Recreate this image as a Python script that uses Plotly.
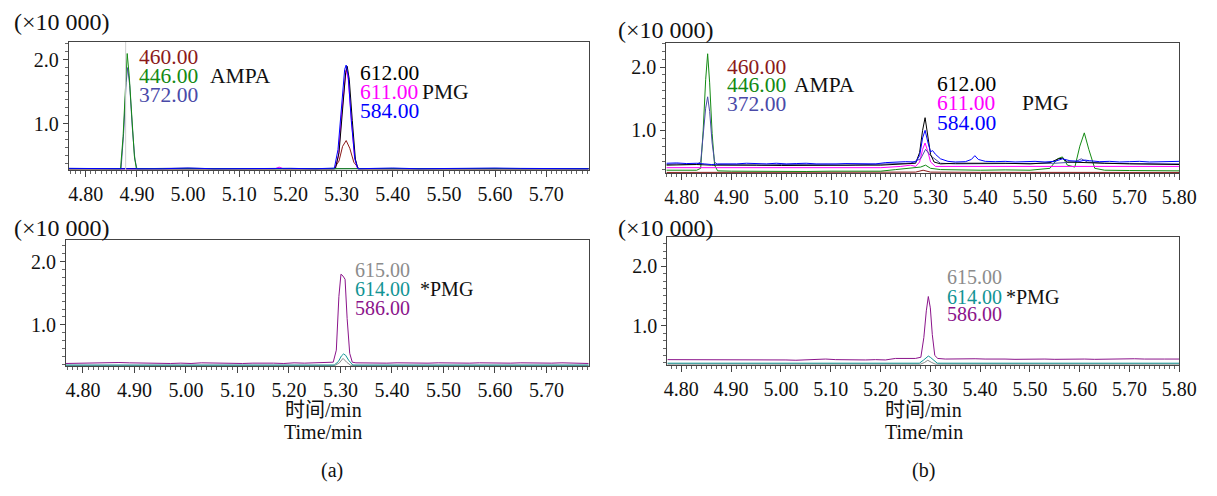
import plotly.graph_objects as go

W, H = 1217, 496
FONT = "Liberation Serif, DejaVu Serif, Noto Sans CJK SC, serif"

# ---------------- colours of the ion traces ----------------
C460 = "#8b1a1a"
C446 = "#138a13"
C372 = "#4a4aa8"
C612 = "#000000"
C611 = "#ff00ff"
C584 = "#0000ff"
C615 = "#8c8c8c"
C614 = "#129494"
C586 = "#8b148b"

# ---------------- panel (a), upper: AMPA + PMG ----------------
a1_460_t = [4.767, 4.90, 5.10, 5.285, 5.295, 5.302, 5.309, 5.316, 5.324, 5.334, 5.50, 5.783]
a1_460_y = [0.30, 0.30, 0.30, 0.30, 0.42, 0.65, 0.74, 0.62, 0.40, 0.30, 0.30, 0.30]

a1_446_t = [4.767, 4.868, 4.873, 4.878, 4.881, 4.885, 4.890, 4.895, 4.899, 5.783]
a1_446_y = [0.30, 0.30, 0.80, 1.70, 2.10, 1.75, 1.05, 0.50, 0.30, 0.30]

a1_372_t = [4.767, 4.80, 4.83, 4.85, 4.869, 4.874, 4.879, 4.882, 4.886, 4.891, 4.896, 4.900,
            4.95, 5.00, 5.05, 5.10, 5.15, 5.20, 5.25, 5.30, 5.35, 5.40, 5.45, 5.50, 5.55,
            5.60, 5.65, 5.70, 5.75, 5.783]
a1_372_y = [0.305, 0.30, 0.305, 0.30, 0.30, 0.85, 1.65, 1.88, 1.60, 0.95, 0.45, 0.30,
            0.305, 0.31, 0.30, 0.305, 0.30, 0.305, 0.30, 0.305, 0.30, 0.305, 0.30, 0.305, 0.30,
            0.305, 0.30, 0.305, 0.30, 0.30]

a1_612_t = [4.767, 5.288, 5.295, 5.302, 5.308, 5.311, 5.315, 5.321, 5.327, 5.332, 5.783]
a1_612_y = [0.30, 0.30, 0.55, 1.25, 1.80, 1.90, 1.70, 1.05, 0.45, 0.30, 0.30]

a1_611_t = [4.767, 5.17, 5.178, 5.186, 5.287, 5.294, 5.300, 5.306, 5.309, 5.313, 5.319, 5.325, 5.331, 5.783]
a1_611_y = [0.30, 0.30, 0.325, 0.30, 0.30, 0.50, 1.15, 1.70, 1.85, 1.70, 1.10, 0.50, 0.30, 0.30]

a1_584_t = [4.767, 4.82, 4.86, 4.90, 4.95, 5.00, 5.05, 5.10, 5.15, 5.20, 5.25, 5.286, 5.293,
            5.300, 5.306, 5.309, 5.313, 5.319, 5.326, 5.332, 5.36, 5.40, 5.45, 5.50, 5.55,
            5.60, 5.65, 5.70, 5.75, 5.783]
a1_584_y = [0.305, 0.30, 0.305, 0.30, 0.30, 0.31, 0.30, 0.305, 0.30, 0.305, 0.30, 0.31, 0.60,
            1.30, 1.85, 1.92, 1.75, 1.05, 0.45, 0.30, 0.305, 0.31, 0.30, 0.305, 0.30,
            0.31, 0.305, 0.30, 0.305, 0.30]

# ---------------- panel (b), upper: AMPA + PMG ----------------
b1_460_t = [4.769, 4.85, 4.90, 5.00, 5.10, 5.20, 5.27, 5.285, 5.292, 5.30, 5.40, 5.50, 5.60, 5.70, 5.80]
b1_460_y = [0.335, 0.335, 0.333, 0.335, 0.333, 0.335, 0.34, 0.37, 0.36, 0.34, 0.336, 0.335, 0.333, 0.335, 0.335]

b1_446_t = [4.769, 4.80, 4.83, 4.838, 4.843, 4.848, 4.852, 4.856, 4.861, 4.866, 4.872, 4.90,
            4.95, 5.00, 5.05, 5.10, 5.15, 5.20, 5.23, 5.26, 5.28, 5.29, 5.30, 5.32, 5.35,
            5.40, 5.45, 5.50, 5.54, 5.555, 5.565, 5.575, 5.59, 5.600, 5.609, 5.618, 5.63,
            5.65, 5.70, 5.75, 5.80]
b1_446_y = [0.37, 0.37, 0.37, 0.40, 1.00, 1.80, 2.21, 1.75, 0.95, 0.45, 0.36, 0.355,
            0.35, 0.355, 0.35, 0.355, 0.35, 0.355, 0.38, 0.40, 0.42, 0.45, 0.40, 0.38, 0.375,
            0.37, 0.375, 0.37, 0.40, 0.55, 0.58, 0.45, 0.42, 0.75, 0.96, 0.70, 0.40,
            0.37, 0.365, 0.36, 0.36]

b1_372_t = [4.769, 4.79, 4.81, 4.83, 4.838, 4.843, 4.848, 4.852, 4.856, 4.861, 4.866, 4.872,
            4.90, 4.93, 4.96, 5.00, 5.03, 5.06, 5.10, 5.13, 5.16, 5.20, 5.23, 5.26, 5.28,
            5.29, 5.30, 5.32, 5.35, 5.40, 5.45, 5.50, 5.55, 5.59, 5.603, 5.615, 5.65, 5.70,
            5.75, 5.80]
b1_372_y = [0.46, 0.47, 0.46, 0.465, 0.50, 0.90, 1.35, 1.53, 1.30, 0.80, 0.50, 0.46,
            0.455, 0.46, 0.45, 0.46, 0.455, 0.45, 0.455, 0.45, 0.455, 0.46, 0.47, 0.48, 0.55,
            0.70, 0.60, 0.48, 0.47, 0.47, 0.475, 0.47, 0.48, 0.50, 0.55, 0.50, 0.48, 0.475,
            0.47, 0.47]

b1_612_t = [4.769, 4.80, 4.83, 4.86, 4.90, 4.95, 5.00, 5.05, 5.10, 5.15, 5.20, 5.24, 5.27,
            5.278, 5.284, 5.289, 5.294, 5.300, 5.307, 5.32, 5.35, 5.40, 5.45, 5.50, 5.54,
            5.557, 5.565, 5.575, 5.60, 5.65, 5.70, 5.75, 5.80]
b1_612_y = [0.45, 0.455, 0.46, 0.45, 0.445, 0.45, 0.445, 0.45, 0.445, 0.45, 0.45, 0.47, 0.48,
            0.65, 1.00, 1.20, 0.95, 0.62, 0.50, 0.47, 0.48, 0.485, 0.48, 0.47, 0.49,
            0.55, 0.56, 0.50, 0.49, 0.48, 0.47, 0.465, 0.46]

b1_611_t = [4.769, 4.85, 4.90, 5.00, 5.10, 5.20, 5.24, 5.26, 5.27, 5.278, 5.284, 5.289,
            5.294, 5.300, 5.31, 5.35, 5.40, 5.50, 5.60, 5.70, 5.80]
b1_611_y = [0.41, 0.41, 0.405, 0.41, 0.405, 0.41, 0.43, 0.45, 0.43, 0.50, 0.70, 0.80,
            0.68, 0.50, 0.43, 0.43, 0.43, 0.43, 0.43, 0.43, 0.43]

b1_584_t = [4.769, 4.79, 4.81, 4.83, 4.845, 4.86, 4.875, 4.89, 4.91, 4.93, 4.95, 4.97, 4.99,
            5.01, 5.03, 5.05, 5.07, 5.09, 5.11, 5.13, 5.15, 5.17, 5.19, 5.21, 5.23, 5.25,
            5.27, 5.278, 5.284, 5.289, 5.295, 5.300, 5.304, 5.31, 5.32, 5.335, 5.35, 5.37,
            5.382, 5.389, 5.396, 5.41, 5.43, 5.45, 5.47, 5.49, 5.51, 5.53, 5.55, 5.565,
            5.58, 5.60, 5.61, 5.62, 5.64, 5.66, 5.68, 5.70, 5.72, 5.74, 5.76, 5.78, 5.80]
b1_584_y = [0.48, 0.485, 0.475, 0.48, 0.47, 0.46, 0.47, 0.465, 0.47, 0.48, 0.475, 0.47, 0.48,
            0.47, 0.475, 0.48, 0.47, 0.465, 0.47, 0.475, 0.47, 0.465, 0.47, 0.49, 0.50, 0.505,
            0.50, 0.60, 0.88, 1.00, 0.80, 0.66, 0.68, 0.62, 0.55, 0.51, 0.50, 0.505,
            0.54, 0.60, 0.54, 0.51, 0.505, 0.51, 0.50, 0.505, 0.51, 0.50, 0.51, 0.55,
            0.52, 0.51, 0.53, 0.52, 0.505, 0.51, 0.50, 0.505, 0.51, 0.50, 0.505, 0.51, 0.51]

# ---------------- panel (a), lower: *PMG ----------------
a2_615_t = [4.767, 5.29, 5.298, 5.305, 5.312, 5.320, 5.782]
a2_615_y = [0.36, 0.36, 0.40, 0.47, 0.41, 0.36, 0.36]

a2_614_t = [4.767, 5.288, 5.296, 5.302, 5.306, 5.310, 5.316, 5.324, 5.782]
a2_614_y = [0.365, 0.365, 0.42, 0.51, 0.54, 0.52, 0.44, 0.365, 0.365]

a2_586_t = [4.767, 4.79, 4.81, 4.83, 4.85, 4.87, 4.89, 4.91, 4.93, 4.95, 4.97, 4.99, 5.01, 5.03,
            5.05, 5.07, 5.09, 5.11, 5.13, 5.15, 5.17, 5.19, 5.21, 5.23, 5.25, 5.27, 5.286,
            5.292, 5.297, 5.301, 5.305, 5.309, 5.313, 5.318, 5.323, 5.33, 5.35, 5.37, 5.39,
            5.41, 5.43, 5.45, 5.47, 5.49, 5.51, 5.53, 5.55, 5.57, 5.59, 5.61, 5.63, 5.65,
            5.67, 5.69, 5.71, 5.73, 5.75, 5.782]
a2_586_y = [0.39, 0.395, 0.40, 0.395, 0.40, 0.405, 0.40, 0.395, 0.39, 0.395, 0.39, 0.395, 0.39, 0.40,
            0.395, 0.39, 0.395, 0.39, 0.395, 0.40, 0.395, 0.39, 0.40, 0.395, 0.40, 0.395, 0.41,
            0.60, 1.45, 1.80, 1.77, 1.72, 1.10, 0.55, 0.41, 0.40, 0.395, 0.40, 0.395,
            0.40, 0.395, 0.39, 0.395, 0.40, 0.395, 0.39, 0.395, 0.40, 0.395, 0.39, 0.395, 0.40,
            0.395, 0.39, 0.395, 0.40, 0.395, 0.39]

# ---------------- panel (b), lower: *PMG ----------------
b2_615_t = [4.772, 5.28, 5.288, 5.295, 5.302, 5.310, 5.80]
b2_615_y = [0.355, 0.355, 0.38, 0.42, 0.385, 0.355, 0.355]

b2_614_t = [4.772, 5.278, 5.286, 5.292, 5.296, 5.300, 5.306, 5.314, 5.80]
b2_614_y = [0.37, 0.37, 0.42, 0.47, 0.49, 0.47, 0.42, 0.37, 0.37]

b2_586_t = [4.772, 4.79, 4.81, 4.83, 4.85, 4.87, 4.89, 4.91, 4.93, 4.95, 4.97, 4.99, 5.01, 5.03,
            5.05, 5.07, 5.09, 5.11, 5.13, 5.15, 5.17, 5.19, 5.21, 5.23, 5.25, 5.27, 5.281,
            5.287, 5.292, 5.296, 5.300, 5.304, 5.309, 5.315, 5.33, 5.35, 5.37, 5.39, 5.41,
            5.43, 5.45, 5.47, 5.49, 5.51, 5.53, 5.55, 5.57, 5.59, 5.61, 5.63, 5.65, 5.67,
            5.69, 5.71, 5.73, 5.75, 5.77, 5.80]
b2_586_y = [0.43, 0.43, 0.435, 0.43, 0.425, 0.43, 0.425, 0.43, 0.435, 0.43, 0.425, 0.43, 0.425, 0.42,
            0.425, 0.43, 0.44, 0.43, 0.425, 0.42, 0.425, 0.43, 0.425, 0.45, 0.455, 0.45, 0.47,
            0.80, 1.25, 1.49, 1.30, 0.85, 0.50, 0.45, 0.44, 0.445, 0.44, 0.445, 0.44,
            0.445, 0.44, 0.435, 0.44, 0.445, 0.44, 0.435, 0.44, 0.445, 0.44, 0.435, 0.44, 0.445,
            0.44, 0.445, 0.44, 0.445, 0.44, 0.44]

AMPA_MARK_A = 4.878   # retention-time marker line drawn in panel (a)

# ---------------- axis setup (pixel boxes: left, right, top, bottom) ----------------
panels = {
    "a1": dict(box=(67, 596, 42, 170), xr=[4.767, 5.783], yr=[0.28, 2.28], xmax=5.70),
    "a2": dict(box=(64, 596, 240, 366), xr=[4.767, 5.782], yr=[0.35, 2.34], xmax=5.70),
    "b1": dict(box=(675, 1197, 43, 173), xr=[4.769, 5.80], yr=[0.326, 2.38], xmax=5.80),
    "b2": dict(box=(676, 1197, 237, 365), xr=[4.772, 5.80], yr=[0.34, 2.49], xmax=5.80),
}
axis_ids = {"a1": ("x", "y"), "a2": ("x2", "y2"), "b1": ("x3", "y3"), "b2": ("x4", "y4")}

series = {
    "a1": [(a1_460_t, a1_460_y, C460), (a1_611_t, a1_611_y, C611), (a1_612_t, a1_612_y, C612),
           (a1_372_t, a1_372_y, C372), (a1_446_t, a1_446_y, C446), (a1_584_t, a1_584_y, C584)],
    "b1": [(b1_460_t, b1_460_y, C460), (b1_446_t, b1_446_y, C446), (b1_611_t, b1_611_y, C611),
           (b1_372_t, b1_372_y, C372), (b1_612_t, b1_612_y, C612), (b1_584_t, b1_584_y, C584)],
    "a2": [(a2_615_t, a2_615_y, C615), (a2_614_t, a2_614_y, C614), (a2_586_t, a2_586_y, C586)],
    "b2": [(b2_615_t, b2_615_y, C615), (b2_614_t, b2_614_y, C614), (b2_586_t, b2_586_y, C586)],
}

fig = go.Figure()

for key, lst in series.items():
    xa, ya = axis_ids[key]
    for t, v, c in lst:
        fig.add_trace(go.Scatter(x=t, y=v, mode="lines", xaxis=xa, yaxis=ya,
                                 line=dict(color=c, width=1), showlegend=False,
                                 hoverinfo="skip"))

TICK_SIZE = 20
layout = dict(width=W, height=H, autosize=False, margin=dict(l=0, r=0, t=0, b=0),
              paper_bgcolor="white", plot_bgcolor="white",
              font=dict(family=FONT, size=20, color="#111"))

for key, p in panels.items():
    xa, ya = axis_ids[key]
    x0, x1, y0, y1 = p["box"]
    xname = "xaxis" if xa == "x" else "xaxis" + xa[1:]
    yname = "yaxis" if ya == "y" else "yaxis" + ya[1:]
    n = int(round((p["xmax"] - 4.80) / 0.1))
    xt = [round(4.80 + 0.1 * i, 2) for i in range(n + 1)]
    layout[xname] = dict(domain=[x0 / W, x1 / W], range=p["xr"], anchor=ya,
                         showgrid=False, zeroline=False, showline=True, mirror=True,
                         linecolor="#444", linewidth=1,
                         tickvals=xt, ticktext=["%.2f" % v for v in xt],
                         ticks="outside", ticklen=6, tickcolor="#444",
                         tickfont=dict(family=FONT, size=TICK_SIZE, color="#111"),
                         minor=dict(dtick=0.01, tick0=4.80, ticks="outside", ticklen=3,
                                    tickcolor="#666", showgrid=False))
    layout[yname] = dict(domain=[1 - y1 / H, 1 - y0 / H], range=p["yr"], anchor=xa,
                         showgrid=False, zeroline=False, showline=True, mirror=True,
                         linecolor="#444", linewidth=1,
                         tickvals=[1.0, 2.0], ticktext=["1.0", "2.0"],
                         ticks="outside", ticklen=5, tickcolor="#444",
                         tickfont=dict(family=FONT, size=TICK_SIZE, color="#111"),
                         minor=dict(dtick=0.125, tick0=0.0, ticks="outside", ticklen=3,
                                    tickcolor="#666", showgrid=False))

fig.update_layout(**layout)

# marker line at AMPA retention time in panel (a)
fig.add_shape(type="line", xref="x", yref="y", x0=AMPA_MARK_A, x1=AMPA_MARK_A,
              y0=0.28, y1=2.36, line=dict(color="#cfcfcf", width=1))

ann = []
def txt(x, y, s, color, xref, yref, size=21.5, xanchor="left"):
    ann.append(dict(x=x, y=y, xref=xref, yref=yref, text=s, showarrow=False,
                    xanchor=xanchor, yanchor="middle", borderpad=0,
                    font=dict(family=FONT, size=size, color=color)))

# ion labels
txt(4.903, 2.05, "460.00", C460, "x", "y"); txt(4.903, 1.75, "446.00", C446, "x", "y")
txt(4.903, 1.45, "372.00", C372, "x", "y"); txt(5.040, 1.75, "AMPA", "#111", "x", "y")
txt(5.334, 1.80, "612.00", C612, "x", "y"); txt(5.334, 1.50, "611.00", C611, "x", "y")
txt(5.334, 1.20, "584.00", C584, "x", "y"); txt(5.456, 1.50, "PMG", "#111", "x", "y")

txt(4.889, 2.00, "460.00", C460, "x3", "y3"); txt(4.889, 1.71, "446.00", C446, "x3", "y3")
txt(4.889, 1.42, "372.00", C372, "x3", "y3"); txt(5.024, 1.71, "AMPA", "#111", "x3", "y3")
txt(5.311, 1.735, "612.00", C612, "x3", "y3"); txt(5.311, 1.43, "611.00", C611, "x3", "y3")
txt(5.311, 1.12, "584.00", C584, "x3", "y3"); txt(5.482, 1.43, "PMG", "#111", "x3", "y3")

LS = 20  # lower-panel label size
txt(5.326, 1.86, "615.00", C615, "x2", "y2", size=LS); txt(5.326, 1.56, "614.00", C614, "x2", "y2", size=LS)
txt(5.326, 1.26, "586.00", C586, "x2", "y2", size=LS); txt(5.453, 1.56, "*PMG", "#111", "x2", "y2", size=LS)

txt(5.332, 1.82, "615.00", C615, "x4", "y4", size=LS); txt(5.332, 1.49, "614.00", C614, "x4", "y4", size=LS)
txt(5.332, 1.19, "586.00", C586, "x4", "y4", size=LS); txt(5.450, 1.49, "*PMG", "#111", "x4", "y4", size=LS)

# scale labels and axis titles (positions in pixels -> paper)
def ptxt(x, y, s, size=20, xanchor="left"):
    txt(x / W, 1 - y / H, s, "#111", "paper", "paper", size=size, xanchor=xanchor)

ptxt(10, 22, "(×10 000)", size=24); ptxt(625, 30, "(×10 000)", size=24)
ptxt(10, 228, "(×10 000)", size=24); ptxt(625, 228, "(×10 000)", size=24)
ptxt(326, 410, "时间/min", xanchor="center"); ptxt(326, 432, "Time/min", xanchor="center")
ptxt(335, 470, "(a)", xanchor="center")
ptxt(937, 410, "时间/min", xanchor="center"); ptxt(937, 432, "Time/min", xanchor="center")
ptxt(937, 470, "(b)", xanchor="center")

fig.update_layout(annotations=ann)
fig.write_html("out.html", config={"displayModeBar": False, "responsive": False},
               post_script="document.body.style.margin='0';document.body.style.overflow='hidden';")
